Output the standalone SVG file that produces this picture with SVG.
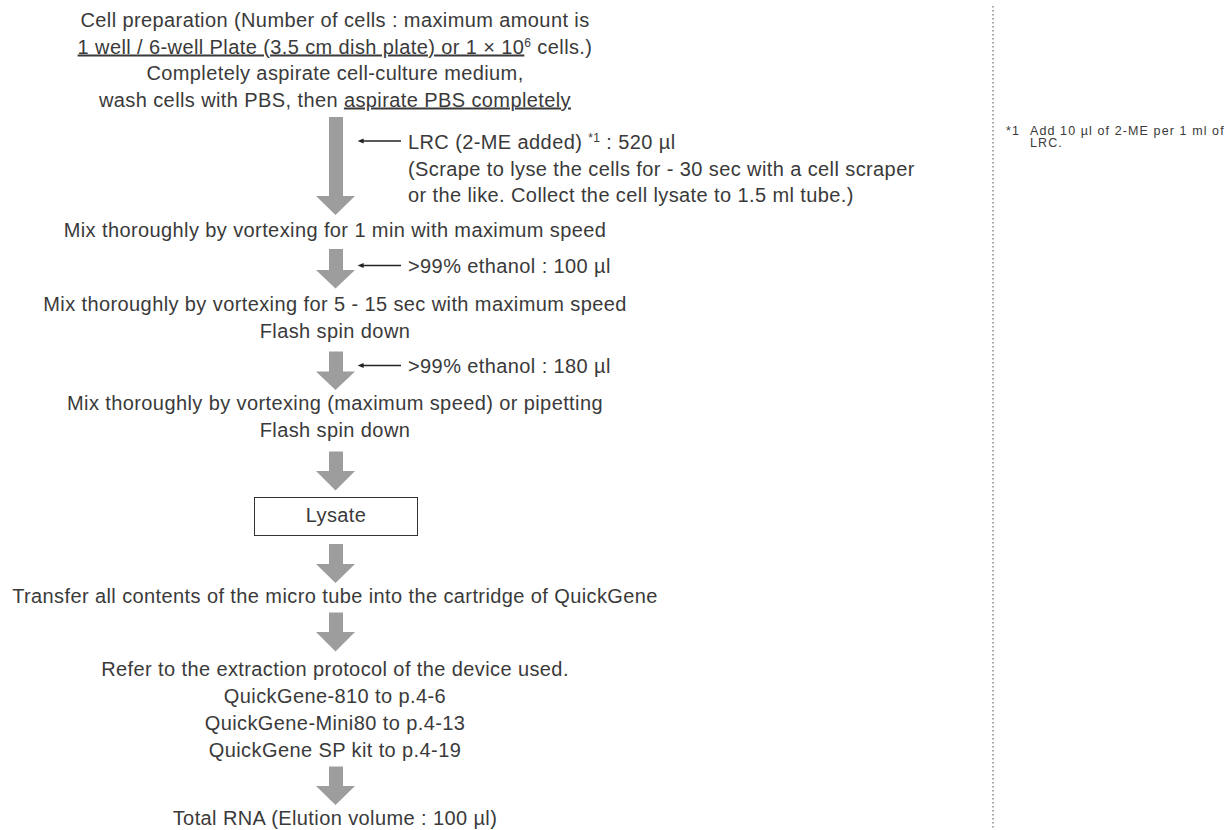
<svg xmlns="http://www.w3.org/2000/svg" width="1230" height="830" viewBox="0 0 1230 830">
  <style>
    text { font-family: "Liberation Sans", Arial, sans-serif; fill: #3a3a3a; }
    .t { font-size: 20px; letter-spacing: 0.4px; }
    .c { text-anchor: middle; }
    .u { text-decoration: underline; }
    .sup { font-size: 12px; }
    .fn { font-size: 12.5px; letter-spacing: 1.1px; }
    .flow { fill: #9d9d9d; }
    .add { stroke: #222; stroke-width: 1.3; fill: none; }
  </style>
  <defs>
    <marker id="head" viewBox="0 0 10 10" refX="1" refY="5" markerWidth="12" markerHeight="6" markerUnits="userSpaceOnUse" orient="auto-start-reverse">
      <path d="M0,1 L10,5 L0,9 Z" fill="#222"/>
    </marker>
  </defs>
  <rect width="1230" height="830" fill="#fff"/>

  <!-- divider between flow and notes -->
  <line x1="993" y1="6" x2="993" y2="830" stroke="#888" stroke-width="1.5" stroke-dasharray="1.5 2.5"/>

  <g id="n-prep">
    <text class="t c" x="335" y="27">Cell preparation (Number of cells : maximum amount is</text>
    <text class="t c" x="335" y="53.5"><tspan class="u">1 well / 6-well Plate (3.5 cm dish plate) or 1 × 10</tspan><tspan class="sup" dy="-7">6</tspan><tspan dy="7"> cells.)</tspan></text>
    <text class="t c" x="335" y="80">Completely aspirate cell-culture medium,</text>
    <text class="t c" x="335" y="106.5">wash cells with PBS, then <tspan class="u">aspirate PBS completely</tspan></text>
  </g>

  <g id="n-lrc">
    <text class="t" x="408" y="149">LRC (2-ME added) <tspan class="sup" dy="-7">*1</tspan><tspan dy="7"> : 520 µl</tspan></text>
    <text class="t" x="408" y="175.5">(Scrape to lyse the cells for - 30 sec with a cell scraper</text>
    <text class="t" x="408" y="202">or the like. Collect the cell lysate to 1.5 ml tube.)</text>
  </g>

  <g id="n-mix1">
    <text class="t c" x="335" y="237">Mix thoroughly by vortexing for 1 min with maximum speed</text>
  </g>

  <g id="n-eth1">
    <text class="t" x="408" y="273">&gt;99% ethanol : 100 µl</text>
  </g>

  <g id="n-mix2">
    <text class="t c" x="335" y="311">Mix thoroughly by vortexing for 5 - 15 sec with maximum speed</text>
    <text class="t c" x="335" y="338">Flash spin down</text>
  </g>

  <g id="n-eth2">
    <text class="t" x="408" y="373">&gt;99% ethanol : 180 µl</text>
  </g>

  <g id="n-mix3">
    <text class="t c" x="335" y="410">Mix thoroughly by vortexing (maximum speed) or pipetting</text>
    <text class="t c" x="335" y="437">Flash spin down</text>
  </g>

  <g id="n-lysate">
    <rect x="254.5" y="497.5" width="163" height="38" fill="#fff" stroke="#333" stroke-width="1"/>
    <text class="t c" x="336" y="522">Lysate</text>
  </g>

  <g id="n-transfer">
    <text class="t c" x="335" y="603">Transfer all contents of the micro tube into the cartridge of QuickGene</text>
  </g>

  <g id="n-refer">
    <text class="t c" x="335" y="676">Refer to the extraction protocol of the device used.</text>
    <text class="t c" x="335" y="703">QuickGene-810 to p.4-6</text>
    <text class="t c" x="335" y="730">QuickGene-Mini80 to p.4-13</text>
    <text class="t c" x="335" y="757">QuickGene SP kit to p.4-19</text>
  </g>

  <g id="n-rna">
    <text class="t c" x="335" y="825">Total RNA (Elution volume : 100 µl)</text>
  </g>

  <g id="n-note">
    <text class="fn" x="1006" y="135">*1</text>
    <text class="fn" x="1030" y="135">Add 10 µl of 2-ME per 1 ml of</text>
    <text class="fn" x="1030" y="147">LRC.</text>
  </g>

  <g id="connectors">
    <!-- main flow arrows -->
    <path class="flow" d="M329,117 H343 V196 H355 L335.5,215 L316,196 H329 Z"/>
    <path class="flow" d="M329,249 H343 V270 H355 L335.5,288.5 L316,270 H329 Z"/>
    <path class="flow" d="M329,351.5 H343 V371.5 H355 L335.5,390 L316,371.5 H329 Z"/>
    <path class="flow" d="M329,451.5 H343 V471 H355 L335.5,490.5 L316,471 H329 Z"/>
    <path class="flow" d="M329,544 H343 V564 H355 L335.5,583 L316,564 H329 Z"/>
    <path class="flow" d="M329,612.5 H343 V632 H355 L335.5,651.5 L316,632 H329 Z"/>
    <path class="flow" d="M329,766.5 H343 V786 H355 L335.5,805 L316,786 H329 Z"/>
    <!-- reagent additions -->
    <line class="add" x1="401" y1="141" x2="363" y2="141" marker-end="url(#head)"/>
    <line class="add" x1="401" y1="265.5" x2="363" y2="265.5" marker-end="url(#head)"/>
    <line class="add" x1="401" y1="365.5" x2="363" y2="365.5" marker-end="url(#head)"/>
  </g>
</svg>
